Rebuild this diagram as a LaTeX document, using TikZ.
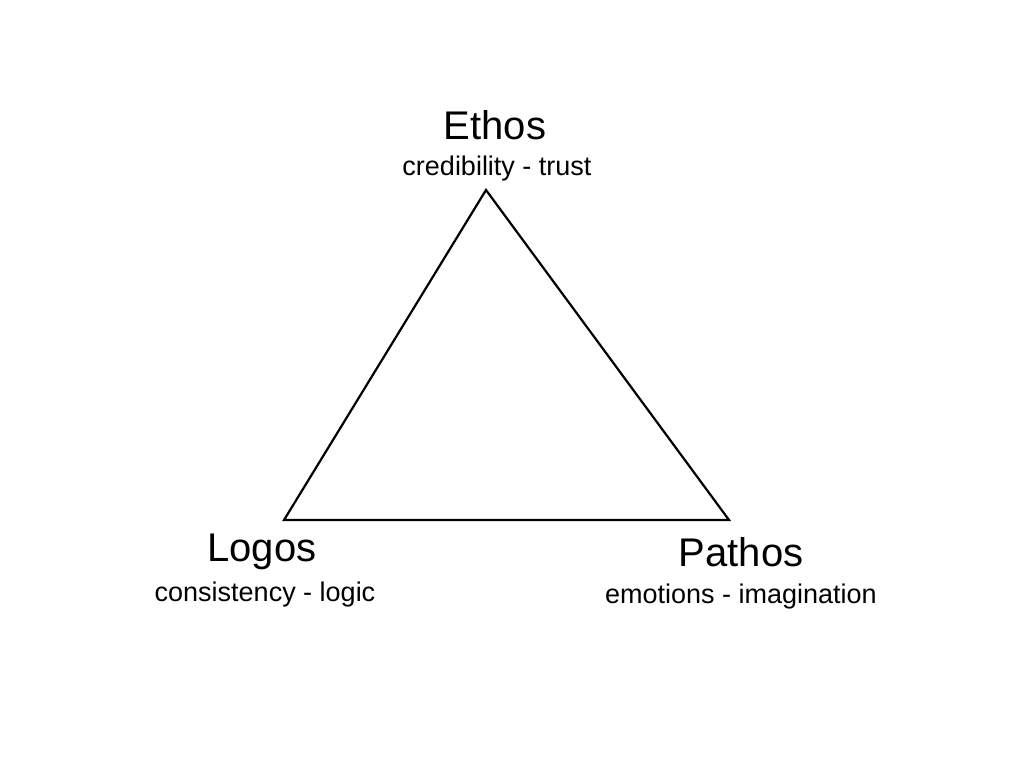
\documentclass[tikz,border=0pt]{standalone}
\usepackage{fontspec}
\setmainfont{Liberation Sans}
\begin{document}
\begin{tikzpicture}[x=1pt,y=-1pt,
  big/.style={font=\fontsize{40}{44}\selectfont,inner sep=0pt},
  small/.style={font=\fontsize{27}{30}\selectfont,inner sep=0pt}]
\useasboundingbox (0,0) rectangle (1024,768);
\coordinate (t) at (486,190);
\coordinate (l) at (284,520);
\coordinate (r) at (729,520);
\draw[line width=2.2pt,line join=miter] (t) -- (l) -- (r) -- cycle;
\node[big] (e) at (495,125) {Ethos};
\node[small] (es) at (497,169) {credibility - trust};
\node[big] (lo) at (262,552) {Logos};
\node[small] (ls) at (265,595) {consistency - logic};
\node[big] (p) at (741,552) {Pathos};
\node[small] (ps) at (741,597) {emotions - imagination};
\end{tikzpicture}
\end{document}
